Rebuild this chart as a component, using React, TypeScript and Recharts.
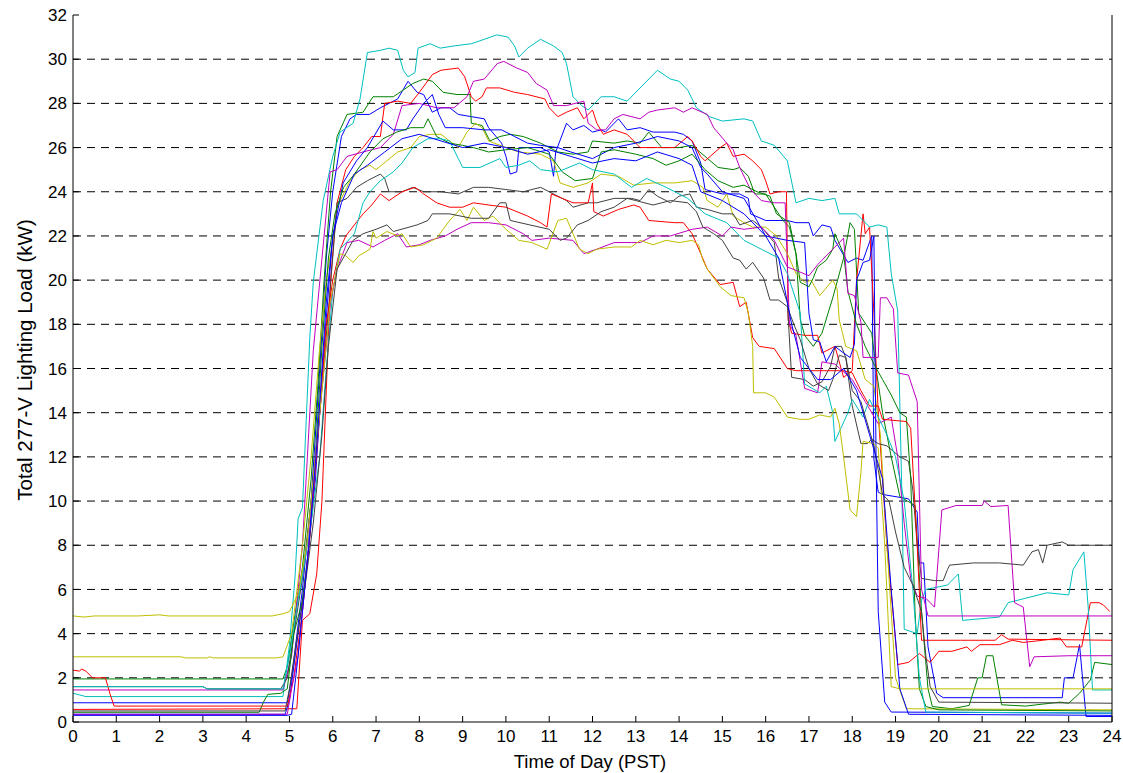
import React from "react";
import { CartesianGrid, Line, LineChart, XAxis, YAxis } from "recharts";

type Pt = [number, number];

const hourTicks = [0, 1, 2, 3, 4, 5, 6, 7, 8, 9, 10, 11, 12, 13, 14, 15, 16, 17, 18, 19, 20, 21, 22, 23, 24];
const loadTicks = [0, 2, 4, 6, 8, 10, 12, 14, 16, 18, 20, 22, 24, 26, 28, 30, 32];

const cyanTop: Pt[] = [[0,1.3],[0.3,1.15],[4.85,1.15],[5.0,3.5],[5.13,6.6],[5.2,9.2],[5.3,9.7],[5.47,17.4],[5.55,19.9],[5.78,23.6],[6.0,25.6],[6.17,26.7],[6.47,27.1],[6.63,28.2],[6.8,30.3],[7.1,30.4],[7.3,30.5],[7.5,30.4],[7.63,29.5],[7.74,29.2],[7.9,29.4],[7.97,30.5],[8.25,30.7],[8.48,30.5],[8.8,30.6],[9.2,30.7],[9.5,30.9],[9.79,31.1],[10.05,31.0],[10.2,30.6],[10.3,30.1],[10.5,30.5],[10.8,30.9],[11.1,30.6],[11.3,30.3],[11.4,29.8],[11.55,28.3],[11.75,27.9],[11.9,27.7],[12.2,28.3],[12.5,28.3],[12.8,28.1],[13.1,28.7],[13.5,29.5],[13.8,29.1],[14.0,29.0],[14.2,28.6],[14.4,27.8],[14.7,27.4],[15.0,27.2],[15.5,27.3],[15.7,27.2],[15.9,26.3],[16.2,26.1],[16.5,25.4],[16.7,23.5],[17.0,23.7],[17.3,23.6],[17.6,23.7],[17.7,23.0],[18.1,23.0],[18.4,22.4],[18.6,22.5],[18.8,22.4],[18.9,20.3],[19.05,18.6],[19.15,10],[19.2,4.2],[19.5,4.0],[19.6,5.5],[19.7,6.0],[20.2,6.2],[20.45,6.7],[20.55,4.6],[21.4,4.75],[21.6,5.4],[22.0,5.6],[22.5,5.85],[23.0,5.75],[23.1,6.9],[23.35,7.7],[23.45,5.2],[23.55,1.45],[24,1.45]];

const cyanMid: Pt[] = [[0,1.6],[3.0,1.6],[3.1,1.5],[4.85,1.5],[5.0,3],[5.2,5.5],[5.5,9],[5.7,12],[5.85,16],[6.0,19.5],[6.17,21.4],[6.5,22.1],[6.7,23.5],[6.86,24.0],[7.1,24.5],[7.4,24.9],[7.6,25.3],[7.85,26.0],[8.2,26.4],[8.48,26.4],[8.7,26.3],[8.9,25.5],[9.0,25.1],[9.4,25.1],[9.86,25.5],[10.0,25.1],[10.3,25.2],[10.55,25.4],[10.8,25.0],[11.2,24.9],[11.7,25.3],[12.0,25.0],[12.5,24.8],[12.9,24.2],[13.25,24.6],[13.7,24.2],[14.2,23.7],[14.6,23.0],[15.1,22.6],[15.4,22.0],[15.5,21.8],[15.9,21.4],[16.3,21.0],[16.5,20.3],[16.8,18.5],[16.9,15.3],[17.25,14.9],[17.4,15.2],[17.55,14.0],[17.6,12.7],[17.9,14.0],[18.0,14.6],[18.25,13.8],[18.4,14.6],[18.8,13.0],[19.0,12.0],[19.2,10],[19.4,6],[19.55,2],[19.7,0.45],[24,0.4]];

const magentaTop: Pt[] = [[0,1.45],[4.85,1.45],[5.05,3],[5.3,8],[5.55,16.8],[5.66,19.1],[5.94,24.9],[6.1,25.0],[6.33,25.6],[6.7,25.8],[7.1,26.0],[7.4,26.6],[7.6,27.9],[8.0,28.0],[8.4,27.8],[8.8,27.8],[9.1,28.3],[9.25,29.0],[9.5,29.1],[9.8,29.8],[9.95,29.9],[10.25,29.6],[10.5,29.4],[10.7,28.9],[10.95,28.6],[11.1,27.9],[11.4,27.9],[11.8,28.1],[11.9,27.1],[12.1,26.8],[12.3,26.8],[12.5,27.3],[12.7,27.5],[13.1,27.3],[13.3,27.6],[13.5,27.7],[13.9,27.8],[14.1,27.6],[14.3,27.8],[14.65,27.5],[14.8,26.9],[15.1,26.2],[15.25,25.9],[15.4,25.1],[15.65,24.1],[15.9,23.6],[16.2,23.5],[16.45,23.5],[16.55,18.0],[16.7,17.5],[16.9,15.1],[17.2,14.9],[17.3,16.3],[17.6,16.2],[18.0,15.5],[18.3,14.5],[18.6,13.5],[18.9,13.8],[19.05,12],[19.2,9],[19.35,6.5],[19.5,5.7],[19.7,5.6],[19.9,5.2],[20.07,9.6],[20.4,9.8],[21.0,9.8],[21.05,10.0],[21.2,9.75],[21.6,9.8],[21.75,5.4],[21.95,5.2],[22.1,2.5],[22.2,2.95],[23,3.0],[24,3.0]];

const magentaLow: Pt[] = [[0,0.35],[4.95,0.35],[5.05,1.5],[5.2,3],[5.4,7],[5.6,12],[5.8,16],[5.95,19],[6.1,20.5],[6.33,21.7],[6.6,21.8],[6.93,21.5],[7.2,21.8],[7.5,22.1],[7.7,21.5],[8.0,21.6],[8.25,21.8],[8.6,22.0],[8.87,22.3],[9.2,22.6],[9.6,22.6],[10.0,22.5],[10.4,22.1],[10.6,21.8],[11.0,21.9],[11.55,21.8],[11.8,21.2],[12.1,21.4],[12.5,21.7],[12.9,21.7],[13.1,21.7],[13.4,22.0],[13.8,22.0],[14.3,22.3],[14.65,22.4],[15.0,22.0],[15.2,22.4],[15.5,22.3],[15.9,22.4],[16.2,21.8],[16.5,20.6],[17.0,20.2],[17.2,20.7],[17.55,21.4],[17.8,21.9],[17.9,19.4],[18.05,19.3],[18.2,18.1],[18.25,16.5],[18.6,16.5],[18.65,19.2],[18.8,19.2],[18.95,18.7],[19.05,15.8],[19.3,15.7],[19.5,14.5],[19.6,6],[19.75,4.8],[24,4.8]];

const redTop: Pt[] = [[0,0.57],[5.17,0.6],[5.3,4.6],[5.47,4.9],[5.63,6.7],[5.75,10],[5.85,15],[5.95,20],[6.1,23.5],[6.3,25.0],[6.5,25.6],[6.7,26.0],[6.9,26.5],[7.1,26.5],[7.2,28.0],[7.5,28.1],[7.8,28.0],[8.0,28.5],[8.3,29.3],[8.5,29.5],[8.9,29.6],[9.05,29.2],[9.2,28.3],[9.3,28.1],[9.45,28.3],[9.55,28.7],[9.86,28.7],[10.2,28.5],[10.5,28.4],[10.9,28.2],[11.0,27.8],[11.2,27.4],[11.4,27.6],[11.65,27.8],[11.8,27.3],[12.0,27.7],[12.1,27.1],[12.25,26.6],[12.5,26.8],[12.8,26.6],[13.1,26.0],[13.5,26.0],[13.9,26.0],[14.2,26.5],[14.3,26.3],[14.5,25.6],[14.6,25.4],[14.95,26.0],[15.1,26.2],[15.25,25.6],[15.5,25.7],[15.7,25.4],[15.9,25.0],[16.0,24.5],[16.1,23.9],[16.3,24.0],[16.48,24.0],[16.52,18.2],[16.6,17.6],[16.9,17.5],[17.2,17.5],[17.3,16.7],[17.6,17.0],[17.8,15.6],[18.0,15.9],[18.1,20.0],[18.25,23.0],[18.3,22.1],[18.4,22.4],[18.5,18.5],[18.6,14],[18.8,8],[19.05,2.6],[19.3,2.7],[19.55,3.1],[19.8,2.7],[20.0,3.2],[20.3,3.2],[20.65,3.4],[20.75,3.2],[20.95,3.5],[21.4,3.5],[21.7,3.7],[21.95,3.6],[22.4,3.7],[22.8,3.8],[22.95,3.4],[23.3,3.4],[23.5,5.4],[23.7,5.4],[23.8,5.3],[23.95,5.0]];

const redLow: Pt[] = [[0,2.35],[0.15,2.3],[0.2,2.4],[0.3,2.3],[0.45,2.0],[0.75,2.0],[0.85,1.3],[0.95,0.72],[4.95,0.72],[5.1,2],[5.3,5],[5.5,9],[5.7,14],[5.85,18],[6.0,20],[6.17,21.4],[6.3,22.0],[6.5,22.5],[6.7,23.0],[6.9,23.4],[7.1,23.9],[7.3,23.6],[7.6,24.0],[7.9,24.2],[8.1,23.9],[8.4,23.5],[8.7,23.3],[9.0,23.3],[9.25,23.5],[9.6,23.4],[10.0,23.3],[10.5,22.9],[10.8,22.6],[10.95,22.4],[11.05,23.9],[11.3,23.7],[11.55,23.5],[11.9,23.5],[12.0,24.4],[12.03,23.1],[12.25,22.9],[12.6,23.2],[12.95,23.4],[13.1,23.3],[13.3,22.7],[13.9,22.6],[14.1,22.6],[14.3,22.1],[14.5,21.2],[14.65,20.5],[14.95,19.8],[15.25,19.9],[15.4,18.8],[15.55,19.0],[15.7,17.4],[15.85,17.0],[16.2,16.9],[16.5,16.0],[16.7,15.9],[17.4,15.9],[17.8,15.9],[18.0,15.8],[18.2,15.0],[18.4,14.3],[18.6,14.3],[18.7,13.7],[19.25,13.6],[19.35,13.3],[19.5,8],[19.6,3.7],[20.5,3.7],[21.3,3.7],[21.45,3.95],[21.6,3.75],[24,3.7]];

const greenTop: Pt[] = [[0,1.95],[4.85,1.95],[4.95,2.5],[5.1,4.5],[5.3,7],[5.5,11],[5.65,15],[5.8,20],[5.95,24],[6.1,26.5],[6.33,27.5],[6.7,27.6],[6.93,28.3],[7.4,28.3],[7.85,28.9],[8.1,29.1],[8.3,29.0],[8.55,28.5],[8.87,28.4],[9.17,28.4],[9.2,27.1],[9.45,27.0],[9.63,26.3],[9.86,26.5],[10.1,26.6],[10.4,26.5],[10.8,26.2],[11.2,25.8],[11.55,25.7],[11.9,25.8],[12.0,26.3],[12.5,26.2],[12.8,26.3],[13.1,26.2],[13.3,26.7],[13.6,26.0],[14.0,26.0],[14.3,26.1],[14.6,25.6],[14.9,25.1],[15.25,25.0],[15.4,25.1],[15.6,24.7],[15.75,23.9],[16.0,23.9],[16.2,23.3],[16.4,22.7],[16.55,22.4],[16.7,21.2],[16.8,18.2],[16.9,17.5],[17.1,17.0],[17.3,17.6],[17.55,19.2],[17.8,21.0],[17.95,22.6],[18.05,22.3],[18.15,18.5],[18.45,17.6],[18.55,16.0],[18.7,14.0],[18.9,12.0],[19.1,10.2],[19.45,9.8],[19.6,5.0],[19.75,1.5],[19.85,0.7],[20.3,0.6],[20.7,0.75],[20.9,2.0],[21.0,2.0],[21.1,3.0],[21.25,3.0],[21.45,0.78],[22.0,0.72],[22.8,0.9],[23.0,0.85],[23.25,1.3],[23.5,1.9],[23.6,2.7],[24,2.6]];

const greenMid: Pt[] = [[0,0.44],[4.3,0.44],[4.4,0.9],[4.5,1.25],[4.8,1.3],[4.95,1.5],[5.1,4],[5.3,5.5],[5.45,8],[5.6,12],[5.75,17],[5.9,21],[6.05,23],[6.25,24.2],[6.5,24.8],[6.86,25.8],[7.16,26.4],[7.48,26.7],[7.8,26.9],[8.1,26.9],[8.2,27.3],[8.4,26.5],[8.7,26.2],[9.0,26.1],[9.25,26.0],[9.6,25.8],[10.0,25.9],[10.5,26.0],[11.0,25.7],[11.3,24.9],[11.6,24.5],[12.0,24.6],[12.2,25.8],[12.5,25.9],[13.0,25.7],[13.4,25.5],[13.7,25.2],[14.0,25.4],[14.3,25.7],[14.6,25.0],[14.9,24.5],[15.25,24.2],[15.5,24.3],[15.8,24.0],[16.1,23.8],[16.25,23.0],[16.55,22.6],[16.7,21.2],[16.8,19.9],[17.0,19.7],[17.1,20.1],[17.2,20.6],[17.4,20.9],[17.55,21.4],[17.6,22.1],[17.8,21.2],[17.9,19.5],[18.1,18.0],[18.3,17.0],[18.5,16.2],[18.7,15.5],[18.9,14.8],[19.1,14.0],[19.25,13.8],[19.35,11],[19.45,5],[19.55,1.5],[19.7,0.7],[20.0,0.55],[24,0.5]];

const blueTop: Pt[] = [[0,0.87],[4.95,0.87],[5.05,2],[5.3,6],[5.5,10],[5.7,16],[5.85,21],[6.0,24],[6.2,26.5],[6.4,27.3],[6.55,27.5],[6.85,27.5],[7.1,27.8],[7.5,28.2],[7.74,29.0],[7.95,28.5],[8.1,28.4],[8.3,27.6],[8.5,27.8],[8.7,27.8],[8.9,27.5],[9.2,27.4],[9.5,27.3],[9.6,26.9],[9.9,26.2],[10.0,25.6],[10.1,24.8],[10.25,24.9],[10.3,26.0],[10.8,26.0],[11.0,25.8],[11.1,24.7],[11.15,25.8],[11.4,27.1],[11.55,26.8],[11.8,27.0],[12.0,26.7],[12.2,26.8],[12.3,26.7],[12.6,27.3],[12.8,26.8],[13.1,26.9],[13.4,26.7],[13.9,26.7],[14.1,26.6],[14.3,26.3],[14.5,25.3],[14.6,24.1],[15.0,23.9],[15.4,23.9],[15.6,23.7],[15.65,23.0],[16.0,22.7],[16.5,22.7],[16.7,22.6],[17.0,22.6],[17.1,22.0],[17.3,22.5],[17.5,22.4],[17.6,21.8],[17.9,20.8],[18.1,21.0],[18.25,20.9],[18.45,22.0],[18.5,11.9],[18.6,10.4],[18.7,10.3],[19.3,10.1],[19.5,9.5],[19.55,7.2],[19.65,7.2],[19.75,3.4],[19.95,1.3],[20.1,1.1],[22.85,1.1],[22.9,2.0],[23.1,2.0],[23.25,3.5],[23.4,0.25],[24,0.25]];

const blueMid: Pt[] = [[0,0.35],[4.9,0.35],[5.0,1],[5.2,4],[5.4,7],[5.6,11],[5.8,17],[6.0,22],[6.24,24.4],[6.55,25.4],[6.8,26.0],[7.16,27.2],[7.4,26.8],[7.7,26.8],[7.85,27.3],[8.1,28.0],[8.3,28.4],[8.45,27.5],[8.6,26.9],[9.0,26.9],[9.5,26.8],[9.9,26.8],[10.2,26.5],[10.5,26.2],[10.8,26.1],[11.2,26.0],[11.5,25.8],[12.0,25.5],[12.5,26.0],[13.0,26.2],[13.5,26.5],[14.0,26.3],[14.3,26.0],[14.5,25.1],[14.65,24.8],[15.0,24.0],[15.5,23.7],[16.0,22.0],[16.5,21.8],[16.9,21.7],[17.0,18.5],[17.1,17.3],[17.25,17.2],[17.4,16.3],[17.6,17.0],[17.8,16.7],[17.95,16.5],[18.05,17.1],[18.1,20.0],[18.25,20.8],[18.4,20.9],[18.5,22.0],[18.55,12],[18.6,5],[18.75,0.9],[18.9,0.45],[24,0.4]];

const blueLow: Pt[] = [[0,0.3],[4.95,0.3],[5.05,0.35],[5.2,3],[5.45,8],[5.65,13],[5.85,19],[6.0,22],[6.2,23.5],[6.5,24.8],[6.8,25.2],[7.2,25.8],[7.6,26.4],[8.0,26.6],[8.5,26.3],[9.0,26.0],[9.5,26.2],[10.0,26.0],[10.5,25.7],[11.0,25.9],[11.5,25.6],[12.0,25.3],[12.5,25.5],[13.0,25.4],[13.5,25.8],[14.0,25.5],[14.3,25.2],[14.5,24.0],[15.0,23.6],[15.5,23.0],[16.0,22.0],[16.3,21.0],[16.6,18.0],[16.8,16.5],[17.2,15.5],[17.5,15.5],[17.8,16.0],[18.1,15.0],[18.4,13.0],[18.7,11.0],[18.9,6],[19.1,1.5],[19.3,0.35],[24,0.3]];

const yellowTop: Pt[] = [[0,2.95],[2.5,2.95],[2.6,2.9],[3.1,2.9],[3.15,2.95],[3.25,2.9],[4.7,2.9],[4.85,2.95],[5.05,4],[5.3,8],[5.5,12],[5.7,17],[5.85,20],[6.0,21.8],[6.1,23.3],[6.4,24.5],[6.63,25.0],[6.86,25.2],[7.0,25.0],[7.25,25.4],[7.5,25.8],[7.8,26.0],[8.0,26.5],[8.25,26.6],[8.5,26.6],[8.7,26.3],[8.9,26.0],[9.1,26.7],[9.3,27.1],[9.45,26.9],[9.6,26.3],[10.0,26.0],[10.3,25.8],[10.8,25.7],[11.1,25.4],[11.25,24.4],[11.55,24.2],[11.9,24.4],[12.2,24.8],[12.6,24.7],[12.95,24.3],[13.4,24.4],[13.9,24.4],[14.3,24.5],[14.55,24.2],[14.65,23.6],[14.9,23.3],[15.1,23.9],[15.25,22.9],[15.5,22.6],[15.7,22.4],[16.0,22.4],[16.25,22.0],[16.5,21.2],[16.7,20.3],[16.9,19.9],[17.05,20.0],[17.25,19.3],[17.55,20.0],[17.65,19.6],[17.7,18.2],[17.85,17.0],[18.1,16.8],[18.3,15.5],[18.5,15.2],[18.65,13],[18.8,8],[19.0,2],[19.25,0.6],[24,0.55]];

const yellowLow: Pt[] = [[0,4.8],[0.25,4.75],[0.5,4.8],[1.5,4.8],[2.0,4.85],[2.2,4.8],[4.6,4.8],[4.85,4.9],[5.0,5.0],[5.2,5.8],[5.4,8],[5.55,11],[5.7,14],[5.85,17],[5.94,19.0],[6.17,21.2],[6.3,21.1],[6.47,20.8],[6.6,21.1],[6.86,21.4],[6.93,22.2],[7.0,21.9],[7.25,22.2],[7.5,22.0],[7.6,22.1],[7.8,21.5],[8.1,21.6],[8.4,21.9],[8.55,22.3],[8.7,22.7],[8.94,23.2],[9.1,22.7],[9.25,23.3],[9.5,22.7],[9.7,22.9],[10.0,22.3],[10.3,21.8],[10.6,21.7],[10.95,21.4],[11.2,22.7],[11.4,22.8],[11.55,22.1],[11.7,21.4],[11.9,21.2],[12.1,21.4],[12.5,21.5],[12.9,21.5],[13.1,21.8],[13.4,21.6],[13.7,21.8],[14.0,21.7],[14.3,21.8],[14.45,21.6],[14.55,20.9],[14.65,20.5],[14.95,19.7],[15.2,19.3],[15.5,19.2],[15.6,18.5],[15.7,17.0],[15.72,14.9],[16.0,14.9],[16.2,14.7],[16.5,13.8],[16.8,13.7],[17.0,13.7],[17.25,13.9],[17.5,13.8],[17.6,14.2],[17.7,13.5],[17.8,12],[17.95,9.6],[18.1,9.3],[18.2,11.3],[18.25,12.7],[18.5,12.6],[18.6,12.4],[18.75,8],[18.9,1.6],[19.1,1.5],[24,1.5]];

const blackTop: Pt[] = [[0,1.6],[3.0,1.6],[3.1,1.5],[4.8,1.5],[4.95,2],[5.1,4],[5.3,6.5],[5.5,10],[5.7,14],[5.9,18.6],[6.1,23.5],[6.33,23.7],[6.55,24.2],[6.8,24.5],[7.1,24.8],[7.2,24.6],[7.3,24.0],[7.6,24.0],[7.85,24.2],[8.1,24.0],[8.5,24.0],[8.9,23.9],[9.25,24.2],[9.6,24.2],[10.0,24.1],[10.4,24.0],[10.8,24.2],[11.1,23.9],[11.4,23.6],[11.55,23.3],[11.9,23.5],[12.1,23.5],[12.5,23.7],[12.9,23.7],[13.1,23.6],[13.3,24.1],[13.5,23.8],[13.8,23.5],[14.0,23.8],[14.25,23.9],[14.4,23.3],[14.65,23.2],[15.0,23.0],[15.25,23.0],[15.4,22.5],[15.7,22.7],[15.9,22.4],[16.2,21.7],[16.3,20.1],[16.5,19.0],[16.6,15.6],[16.9,15.5],[17.1,15.2],[17.3,15.4],[17.5,16.1],[17.6,17.0],[17.75,17.0],[17.85,16.5],[18.0,14.3],[18.2,12.6],[18.35,12.6],[18.45,12.8],[18.6,12.6],[18.8,12.5],[19.1,12.0],[19.3,11.8],[19.4,10.5],[19.5,8.0],[19.6,6.5],[19.9,6.4],[20.1,6.4],[20.2,6.9],[20.25,7.1],[20.8,7.2],[21.4,7.2],[21.95,7.1],[22.15,7.7],[22.3,7.8],[22.4,7.2],[22.5,8.0],[22.85,8.15],[23.0,8.0],[24,8.0]];

const blackLow: Pt[] = [[0,0.5],[4.9,0.5],[5.0,1.5],[5.15,3.5],[5.35,6],[5.55,9],[5.75,13],[5.9,17],[6.1,20.5],[6.47,21.8],[6.7,22.1],[7.0,22.3],[7.25,22.5],[7.4,22.2],[7.95,22.5],[8.2,22.7],[8.3,23.0],[8.7,23.0],[9.2,22.8],[9.6,22.8],[9.86,23.5],[10.0,23.5],[10.1,22.7],[10.55,22.5],[11.0,22.3],[11.25,21.8],[11.4,21.9],[11.65,22.5],[11.9,22.7],[12.2,23.1],[12.5,23.3],[12.8,23.7],[13.0,23.6],[13.4,23.4],[13.8,23.6],[14.2,23.5],[14.4,23.1],[14.55,22.4],[14.8,22.1],[15.0,21.8],[15.25,21.0],[15.4,20.9],[15.55,20.5],[15.7,20.8],[15.95,20.1],[16.1,19.1],[16.3,19.1],[16.5,18.8],[16.65,18.0],[16.8,17.3],[17.0,16.0],[17.2,15.3],[17.45,15.0],[17.55,15.5],[17.7,16.6],[17.85,16.5],[18.0,15.0],[18.2,14.5],[18.5,12.5],[18.7,10.3],[18.85,10.0],[19.0,8.6],[19.2,7.0],[19.4,6.2],[19.6,5.0],[19.7,3.0],[19.8,1.6],[20.0,0.9],[24,0.85]];

const series: { name: string; color: string; pts: Pt[] }[] = [
  { name: "blueTop", color: "#0000FF", pts: blueTop },
  { name: "greenTop", color: "#008000", pts: greenTop },
  { name: "redTop", color: "#FF0000", pts: redTop },
  { name: "cyanTop", color: "#00BFBF", pts: cyanTop },
  { name: "magentaTop", color: "#BF00BF", pts: magentaTop },
  { name: "yellowTop", color: "#BFBF00", pts: yellowTop },
  { name: "blackTop", color: "#404040", pts: blackTop },
  { name: "blueMid", color: "#0000FF", pts: blueMid },
  { name: "greenMid", color: "#008000", pts: greenMid },
  { name: "redLow", color: "#FF0000", pts: redLow },
  { name: "cyanMid", color: "#00BFBF", pts: cyanMid },
  { name: "magentaLow", color: "#BF00BF", pts: magentaLow },
  { name: "yellowLow", color: "#BFBF00", pts: yellowLow },
  { name: "blackLow", color: "#404040", pts: blackLow },
  { name: "blueLow", color: "#0000FF", pts: blueLow },
];

// plot box in page pixels
const L = 73;
const R = 1112;
const T = 15;
const B = 722;
const font = "'Liberation Sans', Arial, sans-serif";

const BottomTick = (p: any) => (
  <g>
    <line x1={p.x} x2={p.x} y1={B} y2={B - 6} stroke="#000" />
    <text x={p.x} y={B + 8} dy="0.71em" textAnchor="middle" fontSize={17} fontFamily={font} fill="#000">
      {p.payload.value}
    </text>
  </g>
);
const TopTick = (p: any) => <line x1={p.x} x2={p.x} y1={T} y2={T + 6} stroke="#000" />;
const LeftTick = (p: any) => (
  <g>
    <line x1={L} x2={L + 6} y1={p.y} y2={p.y} stroke="#000" />
    <text x={L - 6} y={p.y} dy="0.36em" textAnchor="end" fontSize={17} fontFamily={font} fill="#000">
      {p.payload.value}
    </text>
  </g>
);
const RightTick = (p: any) => <line x1={R - 6} x2={R} y1={p.y} y2={p.y} stroke="#000" />;

export default function App() {
  return (
    <div style={{ position: "absolute", left: 0, top: 0, width: 1123, height: 773, background: "#fff" }}>
      <LineChart width={1123} height={773} margin={{ top: T, right: 0, bottom: 0, left: 0 }}>
        <CartesianGrid vertical={false} stroke="#000" strokeDasharray="8 6" horizontalValues={loadTicks.slice(1, -1)} />
        <XAxis
          dataKey="t"
          type="number"
          domain={[0, 24]}
          ticks={hourTicks}
          height={51}
          tickLine={false}
          axisLine={{ stroke: "#000" }}
          tick={<BottomTick />}
          interval={0}
          label={{
            content: () => (
              <text x={590} y={768} textAnchor="middle" fontSize={18.5} fontFamily={font} fill="#000">
                Time of Day (PST)
              </text>
            ),
          }}
        />
        <XAxis
          xAxisId="top"
          orientation="top"
          dataKey="t"
          type="number"
          domain={[0, 24]}
          ticks={hourTicks}
          height={0}
          tickLine={false}
          axisLine={{ stroke: "#000" }}
          tick={<TopTick />}
          interval={0}
        />
        <YAxis
          type="number"
          domain={[0, 32]}
          ticks={loadTicks}
          width={L}
          tickLine={false}
          axisLine={{ stroke: "#000" }}
          tick={<LeftTick />}
          interval={0}
          label={{
            content: () => (
              <text x={24} y={360} transform="rotate(-90 24 360)" textAnchor="middle" dominantBaseline="central" fontSize={20.5} fontFamily={font} fill="#000">
                Total 277-V Lighting Load (kW)
              </text>
            ),
          }}
        />
        <YAxis
          yAxisId="right"
          orientation="right"
          type="number"
          domain={[0, 32]}
          ticks={loadTicks}
          width={1123 - R}
          tickLine={false}
          axisLine={{ stroke: "#000" }}
          tick={<RightTick />}
          interval={0}
        />
        {series.map((s) => (
          <Line
            key={s.name}
            data={s.pts.map(([t, v]) => ({ t, v }))}
            dataKey="v"
            stroke={s.color}
            strokeWidth={1}
            dot={false}
            type="linear"
            isAnimationActive={false}
          />
        ))}
      </LineChart>
    </div>
  );
}
